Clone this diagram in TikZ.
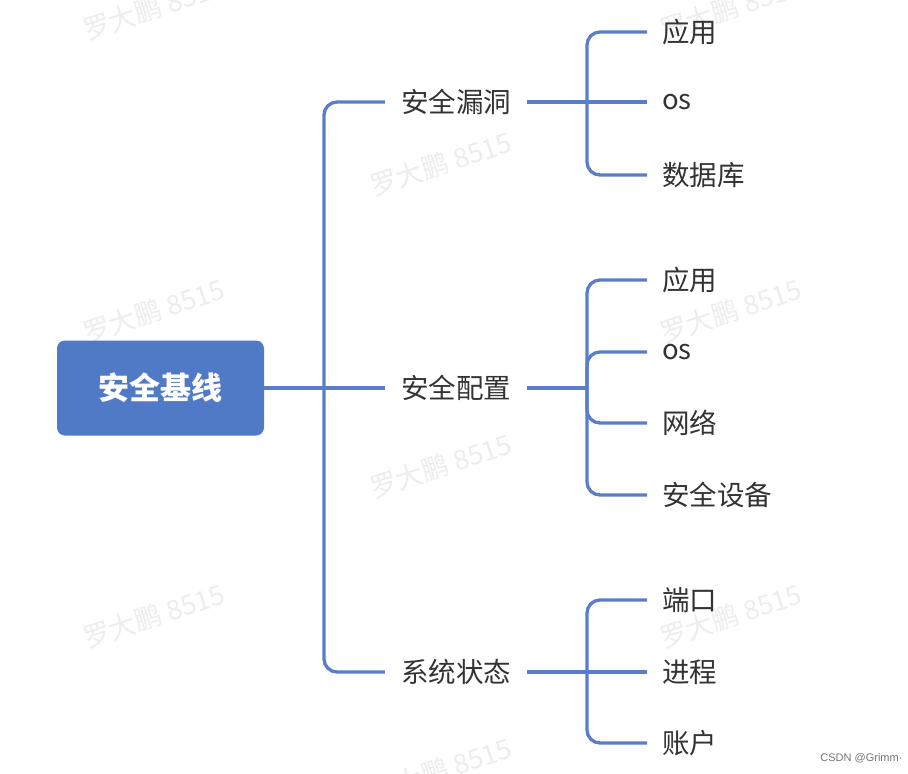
\documentclass[tikz,border=0pt]{standalone}
\usepackage{fontspec}
\setmainfont{Noto Sans CJK SC}
\newfontfamily\latinsans{Liberation Sans}
\definecolor{lineblue}{HTML}{5A7DC9}
\definecolor{rootblue}{HTML}{517AC6}
\definecolor{txt}{HTML}{333333}
\definecolor{wm}{HTML}{EDEDED}
\begin{document}
\begin{tikzpicture}[x=1pt,y=-1pt,
  conn/.style={draw=lineblue,line width=3.3pt,rounded corners=13pt},
  rootbox/.style={fill=rootblue,rounded corners=8pt,minimum width=207pt,minimum height=95pt,
    text=white,font=\fontsize{31}{35}\selectfont\bfseries,inner sep=0pt},
  midbox/.style={text=txt,font=\fontsize{27.5}{32}\selectfont,inner xsep=16pt,inner ysep=4pt},
  leafbox/.style={text=txt,font=\fontsize{27.5}{32}\selectfont,inner xsep=15pt,inner ysep=4pt,anchor=west},
  wmark/.style={text=wm,font=\fontsize{27}{30}\selectfont,rotate=18}]
\useasboundingbox (0,0) rectangle (908,774);
\fill[white] (0,0) rectangle (908,774);
% watermarks
\foreach \wx/\wy [count=\i] in {154/8,731/8,441/164,154/311,731/311,441/466,154/616,731/616,441/770}
  \node[wmark] (wm\i) at (\wx,\wy) {罗大鹏 8515};
% nodes
\node[rootbox] (root) at (160.5,388) {安全基线};
\node[midbox] (m1) at (456,102) {安全漏洞};
\node[midbox] (m2) at (456,388) {安全配置};
\node[midbox] (m3) at (456,672) {系统状态};
\node[leafbox] (l11) at (647,32) {应用};
\node[leafbox] (l12) at (647,102) {os};
\node[leafbox] (l13) at (647,175) {数据库};
\node[leafbox] (l21) at (647,280) {应用};
\node[leafbox] (l22) at (647,352) {os};
\node[leafbox] (l23) at (647,423) {网络};
\node[leafbox] (l24) at (647,495) {安全设备};
\node[leafbox] (l31) at (647,600) {端口};
\node[leafbox] (l32) at (647,672) {进程};
\node[leafbox] (l33) at (647,743) {账户};
\coordinate (t0) at (324,388);
\coordinate (j1) at (587,102);
\coordinate (j2) at (587,388);
\coordinate (j3) at (587,672);
% connectors level 1
\path[conn] (root.east) -- (m2.west);
\path[conn] (m1.west) -| (t0) |- (m3.west);
% group 1
\path[conn] (m1.east) -- (l12.west);
\path[conn] (l11.west) -| (j1) |- (l13.west);
% group 2
\path[conn] (m2.east) -- (j2);
\path[conn] (l21.west) -| (j2) |- (l24.west);
\path[conn] (j2) |- (l22.west);
\path[conn] (j2) |- (l23.west);
% group 3
\path[conn] (m3.east) -- (l32.west);
\path[conn] (l31.west) -| (j3) |- (l33.west);
% credit
\node[text=black!55,font=\latinsans\fontsize{11}{13}\selectfont,anchor=east] (credit) at (906,758) {CSDN @Grimm·};
\end{tikzpicture}
\end{document}
